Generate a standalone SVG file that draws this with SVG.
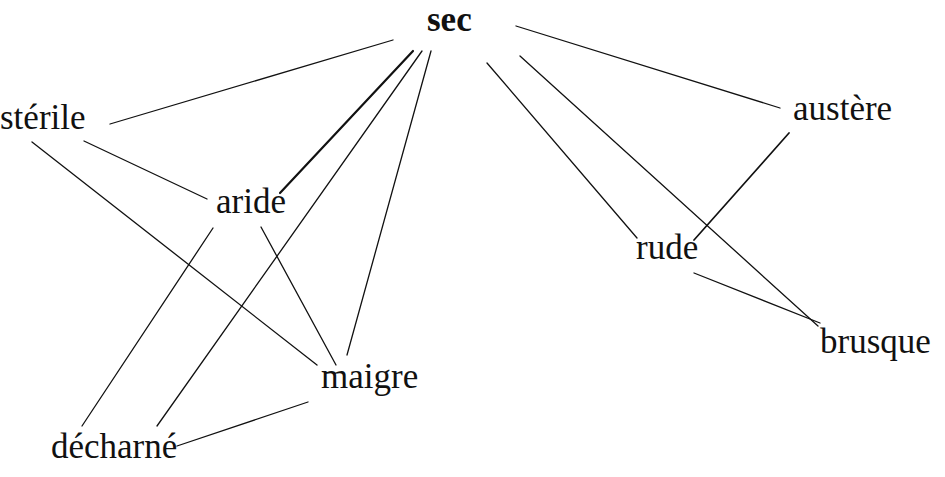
<svg xmlns="http://www.w3.org/2000/svg" width="945" height="477" viewBox="0 0 945 477">
<style>
text{font-size:35px;fill:#111}
.b{font-weight:bold}
line{stroke:#111;stroke-width:1.3;stroke-linecap:round}
.t{stroke-width:2.2}
.m{stroke-width:1.7}
</style>
<rect width="945" height="477" fill="#fff"/>
<g id="connectors">
<line x1="393" y1="40" x2="110" y2="124"/>
<line class="t" x1="413" y1="51" x2="280" y2="193"/>
<line x1="422" y1="51" x2="157" y2="426"/>
<line x1="431" y1="51" x2="347" y2="355"/>
<line x1="487" y1="63" x2="637" y2="238"/>
<line x1="520" y1="56" x2="818" y2="326"/>
<line x1="516" y1="26" x2="780" y2="108"/>
<line class="m" x1="789" y1="133" x2="694" y2="240"/>
<line x1="694" y1="273" x2="820" y2="323"/>
<line x1="84" y1="141" x2="207" y2="199"/>
<line x1="32" y1="142" x2="317" y2="365"/>
<line x1="213" y1="228" x2="82" y2="426"/>
<line x1="261" y1="227" x2="336" y2="365"/>
<line x1="308" y1="402" x2="177" y2="446"/>
</g>
<g font-family="'Liberation Serif', 'Times New Roman', serif">
<g id="sec"><text class="b" x="427" y="31">sec</text></g>
<g id="sterile"><text x="0" y="129">stérile</text></g>
<g id="aride"><text x="216" y="213">aride</text></g>
<g id="austere"><text x="793" y="120">austère</text></g>
<g id="rude"><text x="636" y="259">rude</text></g>
<g id="brusque"><text x="820" y="353">brusque</text></g>
<g id="maigre"><text x="321" y="388">maigre</text></g>
<g id="decharne"><text x="51" y="458">décharné</text></g>
</g>
</svg>
